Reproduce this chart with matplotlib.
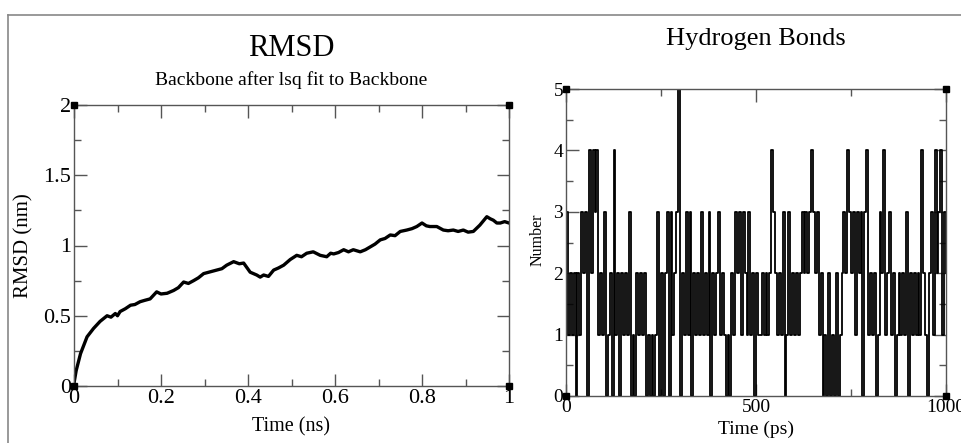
import matplotlib.pyplot as plt
import numpy as np
from matplotlib.lines import Line2D
from matplotlib.ticker import MultipleLocator

# RMSD curve (time in ns, rmsd in nm)
rmsd_time = [0.0, 0.005, 0.015, 0.03, 0.045, 0.06, 0.076, 0.085, 0.095, 0.1, 0.106,
             0.118, 0.13, 0.14, 0.152, 0.163, 0.175, 0.19, 0.2, 0.214, 0.229, 0.24,
             0.252, 0.263, 0.275, 0.286, 0.298, 0.31, 0.328, 0.34, 0.351, 0.367,
             0.38, 0.39, 0.405, 0.42, 0.428, 0.436, 0.447, 0.459, 0.47, 0.482,
             0.497, 0.512, 0.523, 0.535, 0.55, 0.566, 0.581, 0.59, 0.597, 0.608,
             0.62, 0.631, 0.642, 0.658, 0.67, 0.681, 0.692, 0.704, 0.715, 0.727,
             0.738, 0.75, 0.765, 0.777, 0.788, 0.8, 0.81, 0.818, 0.834, 0.849,
             0.86, 0.872, 0.883, 0.895, 0.906, 0.918, 0.933, 0.949, 0.957, 0.964,
             0.972, 0.98, 0.99, 1.0]
rmsd_nm = [0.02, 0.11, 0.23, 0.35, 0.41, 0.46, 0.50, 0.49, 0.516, 0.50, 0.53,
           0.55, 0.575, 0.58, 0.60, 0.61, 0.62, 0.67, 0.655, 0.66, 0.68, 0.70,
           0.74, 0.73, 0.75, 0.77, 0.80, 0.81, 0.825, 0.835, 0.86, 0.885,
           0.87, 0.875, 0.81, 0.79, 0.775, 0.79, 0.78, 0.825, 0.84, 0.86,
           0.90, 0.93, 0.92, 0.945, 0.955, 0.93, 0.92, 0.945, 0.94, 0.95,
           0.97, 0.955, 0.97, 0.955, 0.97, 0.99, 1.01, 1.04, 1.05, 1.075,
           1.07, 1.10, 1.11, 1.12, 1.135, 1.16, 1.14, 1.135, 1.135, 1.11,
           1.105, 1.11, 1.10, 1.11, 1.095, 1.10, 1.145, 1.205, 1.19, 1.18,
           1.16, 1.16, 1.17, 1.16]

# hydrogen bond count, one sample every 5 ps from 0 to 1000 ps
hbond_step_ps = 5
hbond_counts = ("3121202132" "3042434121" "3012041202" "1213010212" "1201010130"
                "2023031235" "0213130212" "1312130212" "3121010213" "2313213120"
                "2112121243" "2121301312" "1212323234" "3231201020" "1020123243"
                "2313230341" "2120132412" "3120121213" "0212121421" "0231423413"
                "2")

plt.rcParams['font.family'] = ['Liberation Serif', 'DejaVu Serif']

fig = plt.figure(figsize=(9.61, 4.43), dpi=100)

# frame lines of the original figure
fig.add_artist(Line2D([8 / 961, 1], [1 - 15 / 443, 1 - 15 / 443], color='#888888', lw=1.2))
fig.add_artist(Line2D([8 / 961, 8 / 961], [0, 1 - 15 / 443], color='#888888', lw=1.2))


def style_axes(ax, fs):
    for sp in ax.spines.values():
        sp.set_color('#555555')
        sp.set_linewidth(1.0)
    ax.tick_params(which='both', direction='in', top=True, right=True,
                   colors='#555555', labelcolor='black', labelsize=fs, pad=2)
    ax.tick_params(which='major', length=9, width=1.0)
    ax.tick_params(which='minor', length=5, width=1.0)
    ax.plot([0, 1, 0, 1], [0, 0, 1, 1], 's', color='black', ms=5,
            transform=ax.transAxes, clip_on=False, zorder=5)


# left panel: RMSD
ax1 = fig.add_axes([74 / 961, 1 - 386 / 443, 435 / 961, 281 / 443])
ax1.plot(rmsd_time, rmsd_nm, color='black', lw=2.4)
ax1.set_xlim(0, 1)
ax1.set_ylim(0, 2)
ax1.xaxis.set_minor_locator(MultipleLocator(0.1))
ax1.yaxis.set_minor_locator(MultipleLocator(0.25))
ax1.set_xticks([0, 0.2, 0.4, 0.6, 0.8, 1.0], ['0', '0.2', '0.4', '0.6', '0.8', '1'])
ax1.set_yticks([0, 0.5, 1.0, 1.5, 2.0], ['0', '0.5', '1', '1.5', '2'])
style_axes(ax1, 16)
ax1.set_xlabel('Time (ns)', fontsize=14.5)
ax1.xaxis.set_label_coords(0.5, -0.11)
ax1.set_ylabel('RMSD (nm)', fontsize=15)
ax1.yaxis.set_label_coords(-0.094, 0.5)

# right panel: hydrogen bonds
hb = np.array([int(c) for c in hbond_counts])
hb_t = np.arange(len(hb)) * hbond_step_ps
ax2 = fig.add_axes([566 / 961, 1 - 396 / 443, 380 / 961, 307 / 443])
ax2.plot(hb_t, hb, color='black', lw=1.3, drawstyle='steps-post')
ax2.set_xlim(0, 1000)
ax2.set_ylim(0, 5)
ax2.xaxis.set_major_locator(MultipleLocator(500))
ax2.xaxis.set_minor_locator(MultipleLocator(250))
ax2.yaxis.set_major_locator(MultipleLocator(1))
ax2.yaxis.set_minor_locator(MultipleLocator(0.5))
style_axes(ax2, 14)
ax2.set_xlabel('Time (ps)', fontsize=14)
ax2.xaxis.set_label_coords(0.5, -0.081)
ax2.set_ylabel('Number', fontsize=11.5)
ax2.yaxis.set_label_coords(-0.055, 0.51)

fig.text(291 / 961, 1 - 48 / 443, 'RMSD', ha='center', va='center', fontsize=22)
fig.text(291 / 961, 1 - 80 / 443, 'Backbone after lsq fit to Backbone',
         ha='center', va='center', fontsize=14)
fig.text(756 / 961, 1 - 39 / 443, 'Hydrogen Bonds', ha='center', va='center', fontsize=19)

fig.savefig('out.png', dpi=100)
